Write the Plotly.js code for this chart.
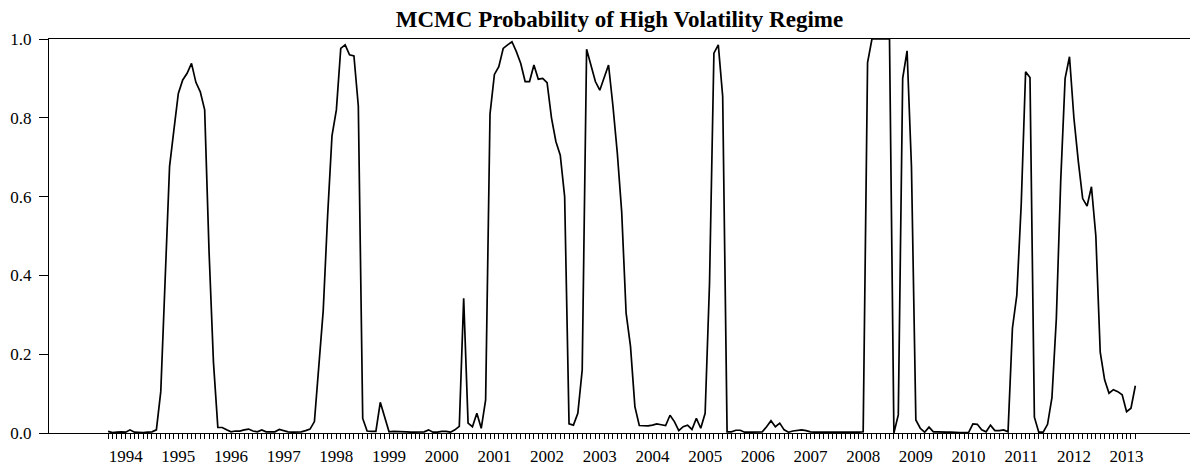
<!DOCTYPE html>
<html>
<head>
<meta charset="utf-8">
<script src="https://cdn.plot.ly/plotly-3.0.1.min.js"></script>
<style>
  html, body { margin: 0; padding: 0; background: #ffffff; }
  #chart { width: 1190px; height: 469px; }
</style>
</head>
<body>
<div id="chart"></div>
<script>
// Monthly probability of the high-volatility regime, March 1994 - September 2013
const firstYear = 1994;
const firstMonth = 3;   // March

const p1994 = [0.004, 0.001, 0.002, 0.003, 0.002, 0.008, 0.002, 0.001, 0.001, 0.002];
const p1995 = [0.003, 0.008, 0.105, 0.39, 0.676, 0.77, 0.862, 0.896, 0.913, 0.938, 0.89, 0.866];
const p1996 = [0.82, 0.46, 0.18, 0.014, 0.014, 0.008, 0.003, 0.005, 0.005, 0.008, 0.01, 0.005];
const p1997 = [0.003, 0.008, 0.003, 0.003, 0.003, 0.009, 0.006, 0.003, 0.002, 0.002, 0.003, 0.006];
const p1998 = [0.01, 0.029, 0.18, 0.31, 0.55, 0.754, 0.82, 0.976, 0.985, 0.96, 0.957, 0.83];
const p1999 = [0.037, 0.005, 0.004, 0.004, 0.078, 0.042, 0.003, 0.004, 0.004, 0.004, 0.003, 0.002];
const p2000 = [0.002, 0.002, 0.003, 0.008, 0.002, 0.002, 0.004, 0.004, 0.002, 0.008, 0.017, 0.342];
const p2001 = [0.025, 0.016, 0.05, 0.012, 0.084, 0.81, 0.91, 0.93, 0.976, 0.985, 0.993, 0.968];
const p2002 = [0.938, 0.892, 0.892, 0.934, 0.898, 0.90, 0.889, 0.80, 0.74, 0.705, 0.60, 0.023];
const p2003 = [0.02, 0.05, 0.16, 0.974, 0.93, 0.892, 0.87, 0.90, 0.934, 0.83, 0.71, 0.56];
const p2004 = [0.304, 0.22, 0.067, 0.019, 0.019, 0.018, 0.02, 0.023, 0.021, 0.019, 0.045, 0.029];
const p2005 = [0.006, 0.016, 0.02, 0.009, 0.037, 0.012, 0.05, 0.38, 0.964, 0.985, 0.854, 0.003];
const p2006 = [0.003, 0.007, 0.007, 0.002, 0.002, 0.002, 0.002, 0.003, 0.016, 0.031, 0.016, 0.025];
const p2007 = [0.008, 0.002, 0.005, 0.007, 0.008, 0.006, 0.003, 0.002, 0.002, 0.001, 0.001, 0.001];
const p2008 = [0.001, 0.001, 0.001, 0.001, 0.001, 0.002, 0.003, 0.94, 1.0, 1.0, 1.0, 1.0];
const p2009 = [1.0, 0.0, 0.046, 0.90, 0.97, 0.676, 0.033, 0.012, 0.002, 0.015, 0.003, 0.003];
const p2010 = [0.002, 0.002, 0.002, 0.001, 0.001, 0.001, 0.001, 0.023, 0.022, 0.008, 0.003, 0.02];
const p2011 = [0.006, 0.006, 0.008, 0.003, 0.266, 0.35, 0.58, 0.917, 0.902, 0.04, 0.002, 0.002];
const p2012 = [0.022, 0.09, 0.29, 0.64, 0.90, 0.955, 0.80, 0.69, 0.595, 0.576, 0.625, 0.50];
const p2013 = [0.205, 0.135, 0.101, 0.11, 0.105, 0.097, 0.054, 0.063, 0.12];

const yearLabels = ['1994','1995','1996','1997','1998','1999','2000','2001','2002','2003',
                    '2004','2005','2006','2007','2008','2009','2010','2011','2012','2013'];
const yTicks = [0.0, 0.2, 0.4, 0.6, 0.8, 1.0];

const prob = [].concat(p1994, p1995, p1996, p1997, p1998, p1999, p2000, p2001, p2002, p2003,
                       p2004, p2005, p2006, p2007, p2008, p2009, p2010, p2011, p2012, p2013);

// Decimal-year position of each monthly observation
const t = prob.map((_, i) => firstYear + (firstMonth - 1 + i) / 12);

// Year boundaries inside the sample get the long ticks; labels sit mid-year
const yearStarts = yearLabels.map(Number).filter(y => y > t[0] && y <= t[t.length - 1]);
const yearMids = yearLabels.map(y => Number(y) + 0.5);

const xRange = [1993.045, 2014.704];
const serif = 'Liberation Serif, Times New Roman, serif';

const trace = {
  x: t,
  y: prob,
  type: 'scatter',
  mode: 'lines',
  line: { color: '#000000', width: 1.7 },
  hoverinfo: 'skip',
  showlegend: false
};

const layout = {
  width: 1190,
  height: 469,
  margin: { l: 49, r: 0, t: 39, b: 36, pad: 0 },
  paper_bgcolor: '#ffffff',
  plot_bgcolor: '#ffffff',
  font: { family: serif, size: 17, color: '#000000' },
  title: {
    text: '<b>MCMC Probability of High Volatility Regime</b>',
    font: { family: serif, size: 23, color: '#000000' },
    x: 0.5, xref: 'paper', xanchor: 'center',
    y: 1 - 19 / 469, yref: 'container', yanchor: 'middle'
  },
  xaxis: {
    range: xRange,
    showgrid: false,
    zeroline: false,
    showline: true,
    linecolor: '#000000',
    linewidth: 1,
    mirror: true,
    tickmode: 'array',
    tickvals: yearStarts,
    ticktext: yearStarts.map(() => ''),
    ticks: 'outside',
    ticklen: 10,
    tickwidth: 1,
    tickcolor: '#000000',
    minor: {
      tickmode: 'array',
      tickvals: t,
      ticks: 'outside',
      ticklen: 5,
      tickwidth: 1,
      tickcolor: '#000000',
      showgrid: false
    },
    fixedrange: true
  },
  xaxis2: {
    overlaying: 'x',
    anchor: 'y',
    side: 'bottom',
    range: xRange,
    showgrid: false,
    zeroline: false,
    showline: false,
    tickmode: 'array',
    tickvals: yearMids,
    ticktext: yearLabels,
    ticks: '',
    ticklabelstandoff: 11,
    tickfont: { family: serif, size: 17, color: '#000000' },
    fixedrange: true
  },
  yaxis: {
    range: [0, 1],
    showgrid: false,
    zeroline: false,
    showline: true,
    linecolor: '#000000',
    linewidth: 1,
    mirror: false,
    tickmode: 'array',
    tickvals: yTicks,
    tickformat: '.1f',
    ticks: 'outside',
    ticklen: 9,
    tickwidth: 1,
    tickcolor: '#000000',
    ticklabelstandoff: 4,
    tickfont: { family: serif, size: 17, color: '#000000' },
    fixedrange: true
  }
};

// Invisible companion trace so the label axis is drawn
const labelTrace = {
  x: [xRange[0]], y: [0], xaxis: 'x2', yaxis: 'y',
  type: 'scatter', mode: 'markers', marker: { opacity: 0 },
  hoverinfo: 'skip', showlegend: false
};

Plotly.newPlot('chart', [trace, labelTrace], layout, { staticPlot: true, displayModeBar: false });
</script>
</body>
</html>
